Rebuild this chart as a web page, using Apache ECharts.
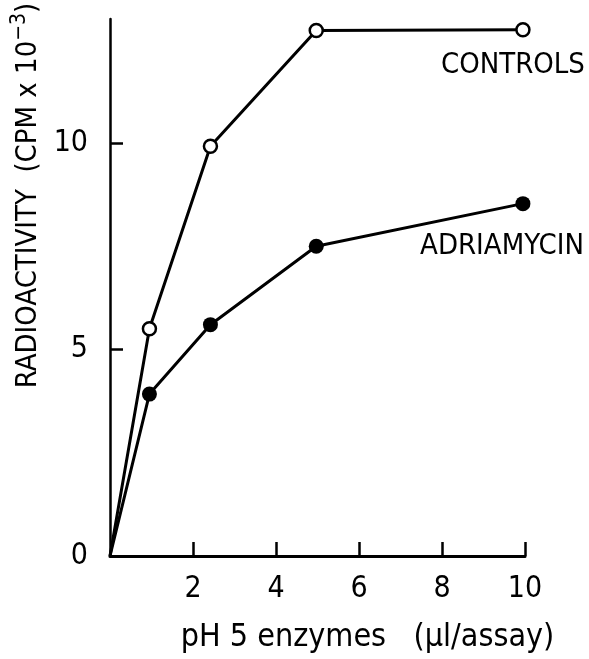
<!DOCTYPE html>
<html>
<head>
<meta charset="utf-8">
<script src="https://cdn.jsdelivr.net/npm/echarts@6/dist/echarts.min.js"></script>
<style>
html,body{margin:0;padding:0;background:#fff;}
#chart{width:589px;height:659px;}
</style>
</head>
<body>
<div id="chart"></div>
<script>
var xValues = [0, 0.95, 2.42, 4.97, 9.95];
var controls = [0, 5.5, 9.92, 12.72, 12.74];
var adriamycin = [0, 3.92, 5.6, 7.5, 8.53];
var xTicks = [2, 4, 6, 8, 10];
var yTicks = [0, 5, 10];
var seriesNames = ['CONTROLS', 'ADRIAMYCIN'];

var FONT = "'Liberation Sans Narrow', 'DejaVu Sans Condensed', 'Liberation Sans', sans-serif";

function buildData(vals, labelOpts) {
  return vals.map(function (v, i) {
    var item = { value: [xValues[i], v] };
    if (i === 0) { item.symbol = 'none'; }
    if (i === vals.length - 1) { item.label = labelOpts; }
    return item;
  });
}

var chart = echarts.init(document.getElementById('chart'));
chart.setOption({
  backgroundColor: '#fff',
  animation: false,
  grid: { left: 110, right: 64, top: 19, bottom: 93, containLabel: false },
  xAxis: {
    type: 'value', min: 0, max: 10,
    name: 'pH 5 enzymes   (\u00b5l/assay)',
    nameLocation: 'middle', nameGap: 66,
    nameTextStyle: { color: '#000', fontSize: 32, fontFamily: FONT, padding: [0, 0, 0, 100] },
    axisLine: { show: true, onZero: false, lineStyle: { color: '#000', width: 3 } },
    axisTick: { show: true, inside: true, length: 14, customValues: xTicks, lineStyle: { color: '#000', width: 2.5 } },
    axisLabel: { customValues: xTicks, color: '#000', fontSize: 30, fontFamily: FONT, margin: 18 },
    splitLine: { show: false }
  },
  yAxis: {
    type: 'value', min: 0, max: 13,
    name: '{a|RADIOACTIVITY  (CPM x 10}{s|\u22123}{a|)}',
    nameLocation: 'middle', nameGap: 62, nameRotate: 90,
    nameTextStyle: {
      color: '#000', fontFamily: FONT, fontSize: 29,
      padding: [0, 0, 0, 184],
      rich: {
        a: { fontSize: 29, fontFamily: FONT, color: '#000', lineHeight: 34, verticalAlign: 'bottom' },
        s: { fontSize: 21, fontFamily: FONT, color: '#000', lineHeight: 34, verticalAlign: 'top' }
      }
    },
    axisLine: { show: true, onZero: false, lineStyle: { color: '#000', width: 2.5 } },
    axisTick: { show: true, inside: true, length: 13, customValues: yTicks, lineStyle: { color: '#000', width: 2.5 } },
    axisLabel: { customValues: yTicks, color: '#000', fontSize: 30, fontFamily: FONT, margin: 22 },
    splitLine: { show: false }
  },
  series: [
    {
      name: seriesNames[0], type: 'line',
      data: buildData(controls, {
        show: true, formatter: seriesNames[0], position: 'bottom', align: 'right',
        distance: 13, offset: [62, 0], color: '#000', fontSize: 29, fontFamily: FONT
      }),
      symbol: 'circle', symbolSize: 13,
      lineStyle: { color: '#000', width: 3 },
      itemStyle: { color: '#fff', borderColor: '#000', borderWidth: 2.5 },
      z: 3
    },
    {
      name: seriesNames[1], type: 'line',
      data: buildData(adriamycin, {
        show: true, formatter: seriesNames[1], position: 'bottom', align: 'right',
        distance: 21, offset: [61, 0], color: '#000', fontSize: 29, fontFamily: FONT
      }),
      symbol: 'circle', symbolSize: 15,
      lineStyle: { color: '#000', width: 3 },
      itemStyle: { color: '#000', borderColor: '#000', borderWidth: 0 },
      z: 3
    }
  ]
});
</script>
</body>
</html>
